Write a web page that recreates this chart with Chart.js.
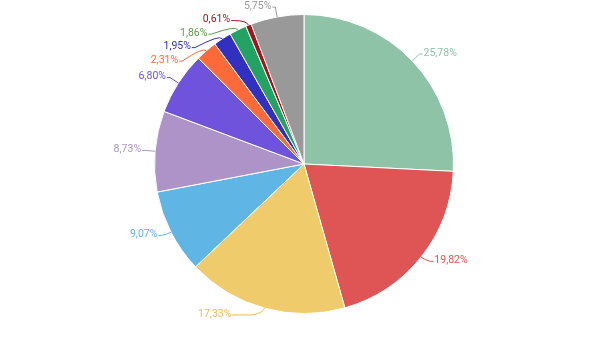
<!DOCTYPE html>
<html>
<head>
<meta charset="utf-8">
<script src="https://cdn.jsdelivr.net/npm/chart.js@4.4.1/dist/chart.umd.min.js"></script>
<style>
  html, body { margin: 0; padding: 0; background: #ffffff; }
  #wrap { width: 604px; height: 341px; position: relative; }
</style>
</head>
<body>
<div id="wrap"><canvas id="c" width="604" height="341"></canvas></div>
<script>
// Data
const categories = ["A", "B", "C", "D", "E", "F", "G", "H", "I", "J", "K"];
const shares = [25.78, 19.82, 17.33, 9.07, 8.73, 6.80, 2.31, 1.95, 1.86, 0.61, 5.75];
const labelTexts = ["25,78%", "19,82%", "17,33%", "9,07%", "8,73%", "6,80%", "2,31%", "1,95%", "1,86%", "0,61%", "5,75%"];

// Styles
const sliceColors = ["#8fc3a8", "#df5454", "#efcb6b", "#5fb6e4", "#ad93c8", "#6f53dc", "#fd6a3a", "#3130c0", "#23a263", "#a3141c", "#999999"];
const textColors  = ["#8fc3a8", "#e4564a", "#eebd55", "#5fb6e4", "#ad93c8", "#6f53dc", "#fd6a3a", "#3130c0", "#5e9a48", "#a3141c", "#999999"];

const outsideLabels = {
  id: 'outsideLabels',
  afterDatasetsDraw(chart) {
    const ctx = chart.ctx;
    const meta = chart.getDatasetMeta(0);
    const items = meta.data.map((arc, i) => {
      const mid = (arc.startAngle + arc.endAngle) / 2;
      const r = arc.outerRadius;
      const R = r + 10;
      return {
        i, mid, r, R, cx: arc.x, cy: arc.y,
        px: arc.x + Math.cos(mid) * r, py: arc.y + Math.sin(mid) * r,
        ly: arc.y + Math.sin(mid) * R - 3 * Math.max(0, Math.sin(mid)),
        left: Math.cos(mid) < 0
      };
    });
    const gap = 13.5;
    [true, false].forEach(side => {
      const list = items.filter(o => o.left === side).sort((a, b) => a.ly - b.ly);
      for (let k = 1; k < list.length; k++) {
        if (list[k].ly < list[k - 1].ly + gap) list[k].ly = list[k - 1].ly + gap;
      }
    });
    items.forEach(o => {
      const dy = o.ly - o.cy;
      const dx = Math.sqrt(Math.max(0, o.R * o.R - dy * dy));
      o.lx = o.cx + (o.left ? -dx : dx);
      // labels close to the bottom get a longer horizontal tail
      o.tail = Math.sin(o.mid) > 0.9 ? 20 : 3;
    });
    ctx.save();
    ctx.font = '10.5px Roboto, "Noto Sans", sans-serif';
    ctx.textBaseline = 'middle';
    ctx.lineWidth = 1;
    items.forEach(o => {
      const color = textColors[o.i];
      const mx = o.cx + Math.cos(o.mid) * (o.r + 5);
      const my = o.cy + Math.sin(o.mid) * (o.r + 5);
      const s = o.left ? -1 : 1;
      ctx.strokeStyle = color;
      ctx.beginPath();
      ctx.moveTo(o.px, o.py);
      ctx.quadraticCurveTo(mx, my, o.lx, o.ly);
      ctx.lineTo(o.lx + s * o.tail, o.ly);
      ctx.stroke();
      ctx.fillStyle = color;
      ctx.textAlign = o.left ? 'right' : 'left';
      ctx.fillText(labelTexts[o.i], o.lx + s * (o.tail + 1), o.ly - 1);
    });
    ctx.restore();
  }
};

new Chart(document.getElementById('c'), {
  type: 'pie',
  data: {
    labels: categories,
    datasets: [{
      data: shares,
      backgroundColor: sliceColors,
      borderColor: '#ffffff',
      borderWidth: 1
    }]
  },
  options: {
    responsive: false,
    animation: false,
    layout: { padding: { top: 14, bottom: 27, left: 4, right: 0 } },
    plugins: {
      legend: { display: false },
      tooltip: { enabled: false }
    }
  },
  plugins: [outsideLabels]
});
</script>
</body>
</html>
